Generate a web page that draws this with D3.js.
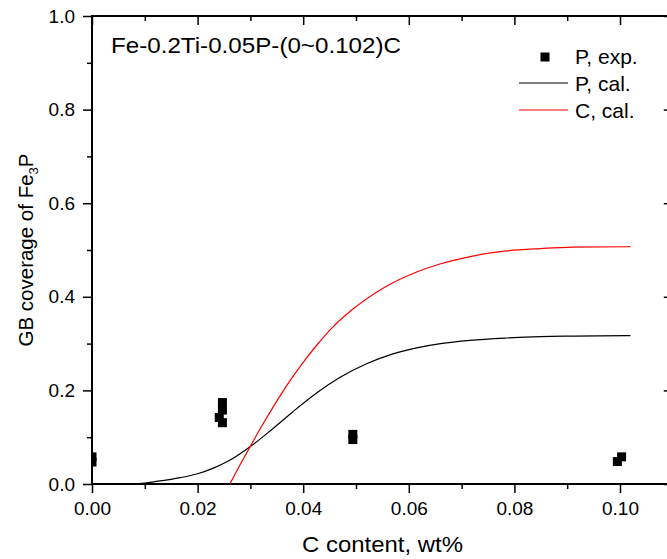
<!DOCTYPE html>
<html lang="en">
<head>
  <meta charset="utf-8">
  <title>GB coverage of Fe3P vs C content</title>
  <script src="https://cdn.jsdelivr.net/npm/d3@7/dist/d3.min.js"></script>
  <style>
    html, body { margin: 0; padding: 0; background: #fff; }
    svg { display: block; font-family: "Liberation Sans", Arial, sans-serif; }
  </style>
</head>
<body>
  <svg id="chart" width="667" height="559"></svg>

  <script>
    // ── data ──────────────────────────────────────────────────
    const expC   = [0.000, 0.000, 0.0241, 0.0247, 0.0247, 0.0247, 0.0494, 0.0494, 0.0995, 0.1003];
    const expP   = [0.047, 0.058, 0.142, 0.174, 0.158, 0.131, 0.106, 0.095, 0.048, 0.058];

    const pCalC  = [0.000, 0.005, 0.008, 0.010, 0.0125, 0.015, 0.0167, 0.020, 0.023, 0.026, 0.030,
                    0.034, 0.038, 0.0426, 0.047, 0.052, 0.057, 0.0615, 0.066, 0.0716, 0.0785, 0.085, 0.0911, 0.102];
    const pCalV  = [0.000, 0.000, 0.0005, 0.002, 0.006, 0.010, 0.0135, 0.022, 0.034, 0.050, 0.080,
                    0.116, 0.154, 0.195, 0.228, 0.257, 0.278, 0.291, 0.300, 0.307, 0.312, 0.315, 0.316, 0.317];

    const cCalC  = [0.0261, 0.028, 0.030, 0.0318, 0.0345, 0.0371, 0.040, 0.0426, 0.0455, 0.0489, 0.0552,
                    0.0615, 0.0659, 0.0716, 0.0785, 0.085, 0.0911, 0.102];
    const cCalV  = [0.000, 0.040, 0.081, 0.117, 0.168, 0.214, 0.260, 0.297, 0.334, 0.369, 0.419,
                    0.453, 0.470, 0.486, 0.498, 0.503, 0.506, 0.507];

    const xMajor = [0, 0.02, 0.04, 0.06, 0.08, 0.10];
    const xMinor = [0.01, 0.03, 0.05, 0.07, 0.09, 0.11];
    const yMajor = [0, 0.2, 0.4, 0.6, 0.8, 1.0];
    const yMinor = [0.1, 0.3, 0.5, 0.7, 0.9];

    const legendLabels = ['P, exp.', 'P, cal.', 'C, cal.'];
    const titleText = 'Fe-0.2Ti-0.05P-(0~0.102)C';

    // ── layout ───────────────────────────────────────────────
    const L = 92, T = 16, B = 484;
    const x = d3.scaleLinear().domain([0, 0.11]).range([L, L + 0.11 * 5280]);
    const y = d3.scaleLinear().domain([0, 1]).range([B, T]);
    const R = x(0.11);

    const svg = d3.select('#chart');

    svg.append('defs').append('clipPath').attr('id', 'plotClip')
      .append('rect').attr('x', L).attr('y', T).attr('width', R - L).attr('height', B - T);

    // axes
    function styleAxis (g) {
      g.select('.domain').remove();
      g.selectAll('line').attr('stroke', '#000').attr('stroke-width', 1.5);
      g.selectAll('text').attr('font-size', 19).attr('fill', '#000');
    }

    const fmtX = d3.format('.2f'), fmtY = d3.format('.1f');

    svg.append('g').attr('transform', `translate(0,${B})`)
      .call(d3.axisBottom(x).tickValues(xMajor).tickSize(9).tickPadding(5).tickFormat(fmtX))
      .call(styleAxis)
      .call(g => g.selectAll('text').attr('dy', '0.9em'));
    svg.append('g').attr('transform', `translate(0,${B})`)
      .call(d3.axisBottom(x).tickValues(xMinor).tickSize(5).tickFormat(''))
      .call(styleAxis);

    svg.append('g').attr('transform', `translate(${L},0)`)
      .call(d3.axisLeft(y).tickValues(yMajor).tickSize(9).tickPadding(8).tickFormat(fmtY))
      .call(styleAxis);
    svg.append('g').attr('transform', `translate(${L},0)`)
      .call(d3.axisLeft(y).tickValues(yMinor).tickSize(5).tickFormat(''))
      .call(styleAxis);

    // mirrored top / right, ticks inward
    svg.append('g').attr('transform', `translate(0,${T})`)
      .call(d3.axisTop(x).tickValues(xMajor).tickSize(-9).tickFormat(''))
      .call(styleAxis);
    svg.append('g').attr('transform', `translate(0,${T})`)
      .call(d3.axisTop(x).tickValues(xMinor).tickSize(-5).tickFormat(''))
      .call(styleAxis);
    svg.append('g').attr('transform', `translate(${R},0)`)
      .call(d3.axisRight(y).tickValues(yMajor).tickSize(-9).tickFormat(''))
      .call(styleAxis);
    svg.append('g').attr('transform', `translate(${R},0)`)
      .call(d3.axisRight(y).tickValues(yMinor).tickSize(-5).tickFormat(''))
      .call(styleAxis);

    // frame
    svg.append('rect')
      .attr('x', L).attr('y', T).attr('width', R - L).attr('height', B - T)
      .attr('fill', 'none').attr('stroke', '#000').attr('stroke-width', 2);

    // curves
    const plot = svg.append('g').attr('clip-path', 'url(#plotClip)');
    const line = d3.line().x(d => x(d[0])).y(d => y(d[1])).curve(d3.curveMonotoneX);

    plot.append('path')
      .datum(d3.zip(pCalC, pCalV))
      .attr('fill', 'none').attr('stroke', '#000').attr('stroke-width', 1.2)
      .attr('d', line);

    plot.append('path')
      .datum(d3.zip(cCalC, cCalV))
      .attr('fill', 'none').attr('stroke', '#ff0000').attr('stroke-width', 1.2)
      .attr('d', line);

    // experimental points
    const sq = 9;
    plot.selectAll('rect.pt')
      .data(d3.zip(expC, expP))
      .join('rect')
        .attr('class', 'pt')
        .attr('x', d => x(d[0]) - sq / 2)
        .attr('y', d => y(d[1]) - sq / 2)
        .attr('width', sq).attr('height', sq)
        .attr('fill', '#000');

    // in-plot title (the source figure is slightly stretched horizontally)
    svg.append('text')
      .attr('x', 111).attr('y', 53)
      .attr('font-size', 22)
      .attr('textLength', 290).attr('lengthAdjust', 'spacingAndGlyphs')
      .text(titleText);

    // legend
    const lg = svg.append('g').attr('font-size', 21);
    lg.append('rect').attr('x', 545 - sq / 2).attr('y', 57 - sq / 2)
      .attr('width', sq).attr('height', sq).attr('fill', '#000');
    lg.append('line').attr('x1', 519).attr('x2', 568).attr('y1', 83).attr('y2', 83)
      .attr('stroke', '#000').attr('stroke-width', 1.2);
    lg.append('line').attr('x1', 519).attr('x2', 568).attr('y1', 110).attr('y2', 110)
      .attr('stroke', '#ff0000').attr('stroke-width', 1.2);
    lg.selectAll('text')
      .data(legendLabels)
      .join('text')
        .attr('x', 575)
        .attr('y', (d, i) => 64 + i * 27)
        .text(d => d);

    // axis titles
    svg.append('text')
      .attr('x', 302).attr('y', 552)
      .attr('font-size', 22)
      .attr('textLength', 161).attr('lengthAdjust', 'spacingAndGlyphs')
      .text('C content, wt%');

    const yt = svg.append('text')
      .attr('transform', `translate(33,${(T + B) / 2}) rotate(-90)`)
      .attr('text-anchor', 'middle').attr('font-size', 20.5);
    yt.append('tspan').text('GB coverage of Fe');
    yt.append('tspan').attr('font-size', 13).attr('dy', 5).text('3');
    yt.append('tspan').attr('dy', -5).text('P');
  </script>
</body>
</html>
